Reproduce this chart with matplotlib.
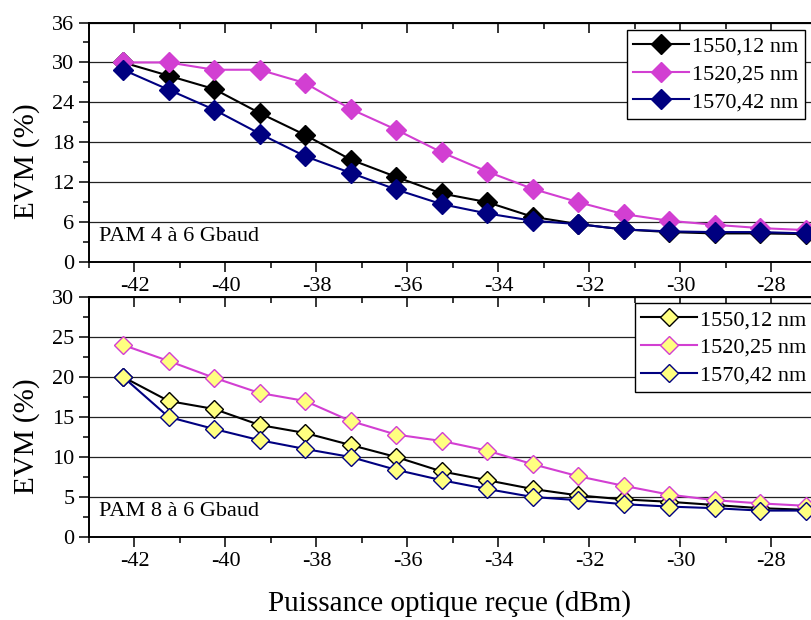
import numpy as np
import matplotlib
matplotlib.use('Agg')
import matplotlib.pyplot as plt
from matplotlib.ticker import MultipleLocator

plt.rcParams['font.family'] = ['Liberation Serif', 'DejaVu Serif']

# received optical power (dBm)
power = [-42.25, -41.25, -40.25, -39.25, -38.25, -37.25, -36.25, -35.25,
         -34.25, -33.25, -32.25, -31.25, -30.25, -29.25, -28.25, -27.25]

labels = ['1550,12 nm', '1520,25 nm', '1570,42 nm']
colors = ['#000000', '#d23fd2', '#000080']

# PAM 4 EVM (%)
pam4_1550 = [30.0, 28.0, 26.0, 22.4, 19.1, 15.4, 12.8, 10.3,
             9.0, 6.8, 5.7, 4.9, 4.5, 4.3, 4.3, 4.2]
pam4_1520 = [30.0, 30.0, 28.9, 28.9, 26.9, 23.0, 19.9, 16.5,
             13.6, 11.0, 9.0, 7.2, 6.2, 5.6, 5.1, 4.8]
pam4_1570 = [28.9, 25.9, 22.9, 19.3, 15.9, 13.4, 10.9, 8.7,
             7.3, 6.2, 5.7, 4.9, 4.6, 4.5, 4.5, 4.3]

# PAM 8 EVM (%)
pam8_1550 = [20.0, 17.0, 16.0, 14.0, 13.0, 11.5, 10.0, 8.2,
             7.1, 6.0, 5.2, 4.7, 4.4, 4.0, 3.6, 3.4]
pam8_1520 = [24.0, 22.0, 19.9, 18.0, 17.0, 14.5, 12.8, 12.0,
             10.8, 9.1, 7.6, 6.4, 5.3, 4.6, 4.2, 3.9]
pam8_1570 = [20.0, 15.0, 13.5, 12.1, 11.0, 10.0, 8.4, 7.1,
             6.0, 5.0, 4.6, 4.1, 3.8, 3.6, 3.3, 3.3]

fig = plt.figure(figsize=(8.11, 6.2), dpi=100)
ax1 = fig.add_axes([0.1097, 0.5774, 0.8903, 0.3863])
ax2 = fig.add_axes([0.1097, 0.1339, 0.8903, 0.3871])

for ax, series, face, ms, ymax, ystep, txt in [
        (ax1, [pam4_1550, pam4_1520, pam4_1570], None, 10.2, 36, 6, 'PAM 4 à 6 Gbaud'),
        (ax2, [pam8_1550, pam8_1520, pam8_1570], '#ffff80', 9.2, 30, 5, 'PAM 8 à 6 Gbaud')]:
    for vals, c, lab in zip(series, colors, labels):
        ax.plot(power, vals, color=c, lw=1.5, marker='D', ms=ms,
                mfc=face if face else c, mec=c, mew=1.0, label=lab)
    ax.set_xlim(-43, -27.13)
    ax.set_ylim(0, ymax)
    ax.xaxis.set_major_locator(MultipleLocator(2))
    ax.xaxis.set_minor_locator(MultipleLocator(1))
    ax.yaxis.set_major_locator(MultipleLocator(ystep))
    ax.yaxis.set_minor_locator(MultipleLocator(ystep / 2))
    ax.grid(axis='y', which='major', color='#222222', lw=0.9)
    ax.set_axisbelow(True)
    ax.tick_params(axis='both', which='major', labelsize=16, length=7, width=1.1)
    ax.tick_params(axis='both', which='minor', length=4, width=1.1)
    ax.tick_params(axis='x', top=True, which='both')
    for sp in ax.spines.values():
        sp.set_linewidth(1.4)
    ax.spines['right'].set_visible(False)
    ax.set_ylabel('EVM (%)', fontsize=21)
    ax.yaxis.set_label_coords(-0.068, 0.42)
    ax.text(0.014, 0.105, txt, transform=ax.transAxes, fontsize=16,
            va='center', ha='left')
    leg = ax.legend(loc='upper right', fontsize=16, frameon=True, fancybox=False,
                    edgecolor='black', framealpha=1, handlelength=2.5,
                    handletextpad=0.15, labelspacing=0.32, borderpad=0.3,
                    borderaxespad=0)
    leg.get_frame().set_linewidth(1.0)

ax1.legend_.set_bbox_to_anchor((1 - 6 / 722, 1 - 7 / 239.5), transform=ax1.transAxes)
ax2.legend_.set_bbox_to_anchor((1 + 2 / 722, 1 - 6 / 240), transform=ax2.transAxes)

# top axis ticks point inward, bottom outward
for ax in (ax1, ax2):
    for t in ax.xaxis.get_major_ticks() + ax.xaxis.get_minor_ticks():
        t.tick2line.set_marker(matplotlib.lines.TICKDOWN)

ax1.xaxis.set_major_formatter(matplotlib.ticker.FuncFormatter(lambda v, p: '%d' % v))
ax2.xaxis.set_major_formatter(matplotlib.ticker.FuncFormatter(lambda v, p: '%d' % v))
ax2.set_xlabel('Puissance optique reçue (dBm)', fontsize=21, labelpad=14)

fig.savefig('out.png', dpi=100)
